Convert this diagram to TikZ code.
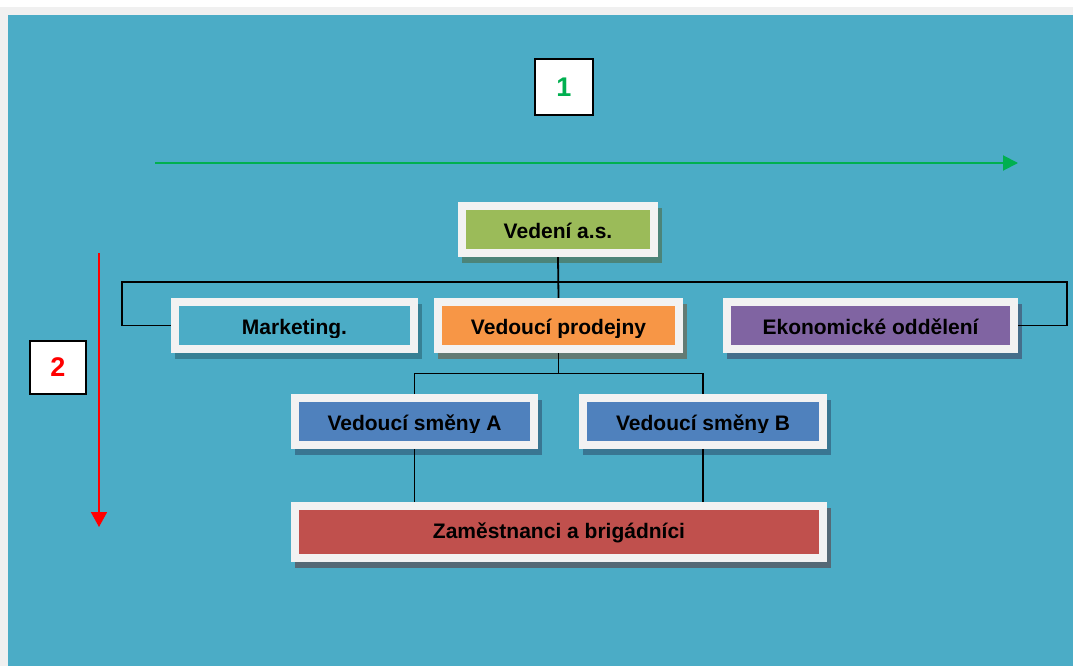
\documentclass[tikz,border=0pt]{standalone}
\usepackage{fontspec}
\setmainfont{Liberation Sans}
\usetikzlibrary{arrows.meta}

\definecolor{pagebg}{HTML}{F0F0F0}
\definecolor{slate}{HTML}{4BACC6}
\definecolor{frame}{HTML}{F2F2F2}
\definecolor{cgreen}{HTML}{9BBB59}
\definecolor{corange}{HTML}{F79646}
\definecolor{cpurple}{HTML}{8064A2}
\definecolor{cblue}{HTML}{4F81BD}
\definecolor{cred}{HTML}{C0504D}
\definecolor{arrowgreen}{HTML}{00B050}
\definecolor{arrowred}{HTML}{FF0000}

\pgfdeclarelayer{canvas}
\pgfdeclarelayer{shade}
\pgfdeclarelayer{wires}
\pgfsetlayers{canvas,shade,wires,main}

\tikzset{
  orgbox/.style={draw=frame, line width=7.6pt, rectangle, inner sep=0pt},
  orglabel/.style={anchor=base, inner sep=0pt, font=\bfseries\fontsize{21}{25}\selectfont},
  wire/.style={draw=black, line width=1.8pt},
  numbox/.style={draw=black, fill=white, line width=1.5pt, inner sep=0pt,
                 font=\bfseries\fontsize{27}{30}\selectfont},
}

% box with its drop shadow: name, centre, path width, path height, fill colour
\newcommand{\orgunit}[6]{%
  \node[orgbox, fill=#5, minimum width=#3pt, minimum height=#4pt] (#1) at (#2) {};
  \begin{pgfonlayer}{shade}
    \fill[#5!50!black, fill opacity=0.5]
      ([shift={(4,6)}]#1.north west) rectangle ([shift={(4,6)}]#1.south east);
  \end{pgfonlayer}
}

\begin{document}
\begin{tikzpicture}[x=1pt, y=-1pt]
  \useasboundingbox (0,0) rectangle (1073,666);
  \begin{pgfonlayer}{canvas}
    \fill[white] (0,0) rectangle (1073,666);
    \fill[pagebg] (0,7) rectangle (1073,666);
    \fill[slate] (8,15) rectangle (1073,666);
  \end{pgfonlayer}

  % direction markers
  \node[numbox, text=arrowgreen, minimum width=58pt, minimum height=56pt] (n1) at (564,87) {1};
  \node[numbox, text=arrowred, minimum width=56pt, minimum height=53pt] (n2) at (58,367.5) {2};
  \coordinate (gs) at (155,163);
  \coordinate (ge) at (1018,163);
  \draw[arrowgreen, line width=2pt, -{Triangle[length=15pt,width=15pt]}] (gs) -- (ge);
  \coordinate (rs) at (99,253);
  \coordinate (re) at (99,527);
  \draw[arrowred, line width=1.8pt, -{Triangle[length=15pt,width=16pt]}] (rs) -- (re);

  % boxes
  \orgunit{vedeni}{558,229.5}{192}{47.4}{cgreen}{}
  \orgunit{marketing}{294.5,325.5}{239}{47.4}{slate}{}
  \orgunit{prodejna}{558.5,325.5}{241}{47.4}{corange}{}
  \orgunit{ekonom}{870.5,325.5}{287}{47.4}{cpurple}{}
  \orgunit{smenaA}{414.5,421.5}{239}{47.4}{cblue}{}
  \orgunit{smenaB}{703,421.5}{240}{47.4}{cblue}{}
  \orgunit{staff}{559,532}{528}{52.4}{cred}{}

  % labels
  \node[orglabel] (vedeni-t) at (558,238.5) {Vedení a.s.};
  \node[orglabel] (ekonom-t) at (870.5,334.5) {Ekonomické oddělení};
  \node[orglabel] (staff-t) at (559,538) {Zaměstnanci a brigádníci};
  \begin{scope}
    \clip (150,300) rectangle (1000,337);
    \node[orglabel] (marketing-t) at (294.5,334.5) {Marketing.};
    \node[orglabel] (prodejna-t) at (558.5,334.5) {Vedoucí prodejny};
  \end{scope}
  \begin{scope}
    \clip (290,400) rectangle (830,432.5);
    \node[orglabel] (smenaA-t) at (414.5,430.5) {Vedoucí směny A};
    \node[orglabel] (smenaB-t) at (703,430.5) {Vedoucí směny B};
  \end{scope}

  % connectors
  \coordinate (busL) at (122,282);
  \coordinate (busR) at (1067,282);
  \coordinate (bus2) at (414,373.5);
  \begin{pgfonlayer}{wires}
    \draw[wire] (vedeni.south) -- (prodejna.north);
    \draw[wire] (marketing.west) -| (busL) -- (busR) |- (ekonom.east);
    \draw[wire] (prodejna.south) -- (prodejna.south |- bus2);
    \draw[wire] (smenaA.north) -- (smenaA.north |- bus2) -- (smenaB.north |- bus2) -- (smenaB.north);
    \draw[wire] (smenaA.south) -- (smenaA.south |- staff.north);
    \draw[wire] (smenaB.south) -- (smenaB.south |- staff.north);
  \end{pgfonlayer}
\end{tikzpicture}
\end{document}
